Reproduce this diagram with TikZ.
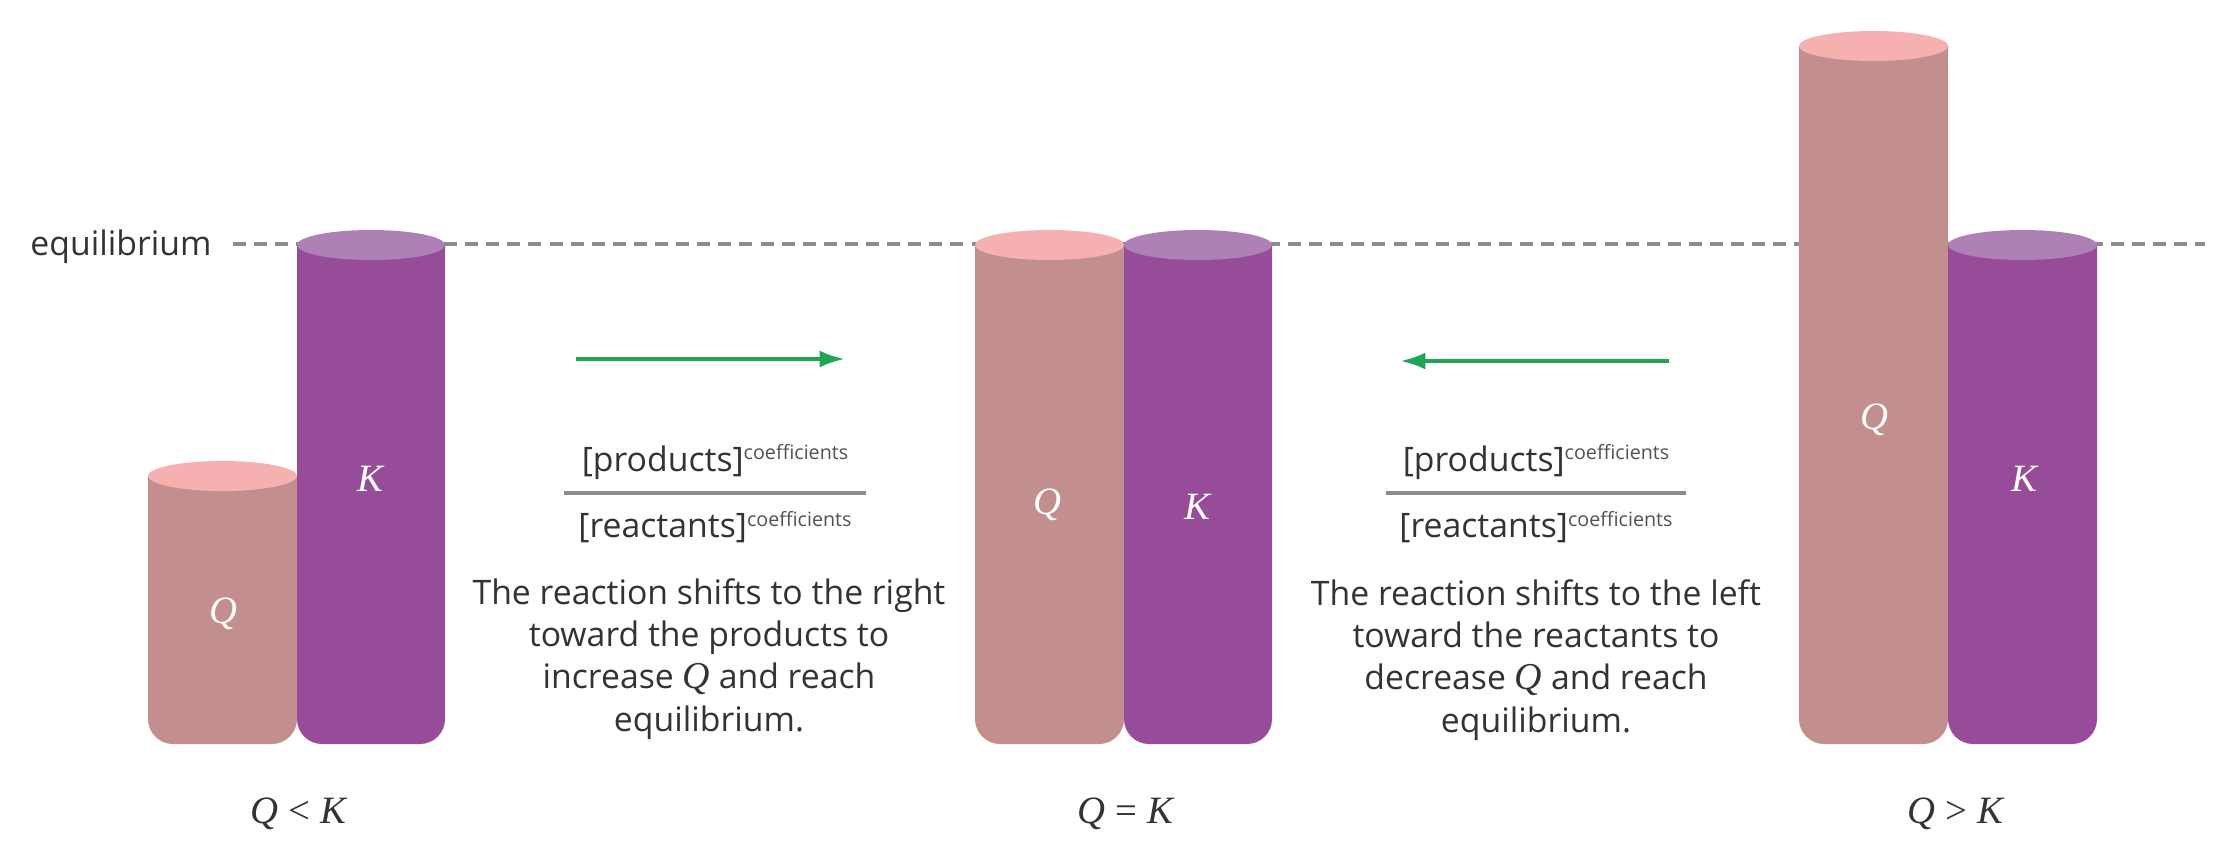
\documentclass[tikz,border=0pt]{standalone}
\usepackage{fontspec}
\setmainfont{Open Sans}
\newfontfamily\varfont{Liberation Serif}
\usetikzlibrary{arrows.meta, positioning}
\definecolor{rtqbody}{HTML}{C28E8E}
\definecolor{rtqcap}{HTML}{F7B0B0}
\definecolor{rtkbody}{HTML}{974C9A}
\definecolor{rtkcap}{HTML}{AE80B5}
\definecolor{rtgreen}{HTML}{22A455}
\definecolor{rttext}{HTML}{333333}
\definecolor{rtline}{HTML}{8C8C8C}
\newcommand{\rtvar}[1]{{\varfont\itshape #1}}
\newcommand{\rtnotevar}[1]{{\fontsize{10.8}{12}\selectfont\rtvar{#1}}}
\newcommand{\rtcoef}{\raisebox{3.2pt}{\fontsize{5.6}{6}\selectfont\color{rttext!85}coefficients}}
\tikzset{
  rtarrow/.style={-{Latex[length=7.2pt, width=4.8pt]}, rtgreen, line width=1.1pt},
  rtlevel/.style={draw=rtline, line width=1pt, dash pattern=on 3.7pt off 2.3pt},
  rtbar/.style={draw=rtline, line width=1pt},
  rttxt/.style={text=rttext, inner sep=0pt, font=\fontsize{9.6}{12}\selectfont},
  rtnote/.style={rttxt, align=center},
  rtfrac/.style={rttxt},
  rtvalue/.style={text=white, inner sep=0pt, font=\fontsize{11}{13}\selectfont},
  rtcase/.style={text=rttext, inner sep=0pt, font=\fontsize{11}{13}\selectfont},
  rtcorner/.style={rounded corners=0.25cm},
}
\begin{document}
\begin{tikzpicture}[x=0.01cm, y=-0.01cm]
  \useasboundingbox (0,0) rectangle (2216,848);

  % Equilibrium level, behind the cylinders.
  \node[rttxt] (eq) at (121,247) {equilibrium};
  \coordinate (level_l) at (233,244);
  \coordinate (level_r) at (2205,244);
  \draw[rtlevel] (level_l) -- (level_r);

  % Q < K.
  \fill[rtqbody] (148,476) [rtcorner] -- (148,744) -- (297,744) [sharp corners] -- (297,476) -- cycle;
  \fill[rtqcap] (222.5,476) ellipse [x radius=74.5, y radius=15];
  \fill[rtkbody] (297,245) [rtcorner] -- (297,744) -- (445,744) [sharp corners] -- (445,245) -- cycle;
  \fill[rtkcap] (371,245) ellipse [x radius=74, y radius=15];
  \node[rtvalue] (q_low) at (223,614) {\rtvar{Q}};
  \node[rtvalue] (k_low) at (370,479) {\rtvar{K}};
  \node[rtcase] (case_low) at (298,814) {\rtvar{Q} {\varfont<} \rtvar{K}};

  % Q = K.
  \fill[rtqbody] (975,245) [rtcorner] -- (975,744) -- (1124,744) [sharp corners] -- (1124,245) -- cycle;
  \fill[rtqcap] (1049.5,245) ellipse [x radius=74.5, y radius=15];
  \fill[rtkbody] (1124,245) [rtcorner] -- (1124,744) -- (1272,744) [sharp corners] -- (1272,245) -- cycle;
  \fill[rtkcap] (1198,245) ellipse [x radius=74, y radius=15];
  \node[rtvalue] (q_mid) at (1047,505) {\rtvar{Q}};
  \node[rtvalue] (k_mid) at (1197,507) {\rtvar{K}};
  \node[rtcase] (case_mid) at (1125,814) {\rtvar{Q} {\varfont=} \rtvar{K}};

  % Q > K.
  \fill[rtqbody] (1799,46) [rtcorner] -- (1799,744) -- (1948,744) [sharp corners] -- (1948,46) -- cycle;
  \fill[rtqcap] (1873.5,46) ellipse [x radius=74.5, y radius=15];
  \fill[rtkbody] (1948,245) [rtcorner] -- (1948,744) -- (2097,744) [sharp corners] -- (2097,245) -- cycle;
  \fill[rtkcap] (2022.5,245) ellipse [x radius=74.5, y radius=15];
  \node[rtvalue] (q_high) at (1874,420) {\rtvar{Q}};
  \node[rtvalue] (k_high) at (2024,479) {\rtvar{K}};
  \node[rtcase] (case_high) at (1955,814) {\rtvar{Q} {\varfont>} \rtvar{K}};

  % Shift to the right.
  \coordinate (right_s) at (576,359);
  \coordinate (right_e) at (845,359);
  \draw[rtarrow] (right_s) -- (right_e);
  \coordinate (bar1_l) at (564,493);
  \coordinate (bar1_r) at (866,493);
  \draw[rtbar] (bar1_l) -- (bar1_r);
  \node[rtfrac] (prod1) at (715,462) {[products]\rtcoef};
  \node[rtfrac] (reac1) at (715,527) {[reactants]\rtcoef};
  \node[rtnote] (note1) at (709,659) {The reaction shifts to the right\\toward the products to\\increase \rtnotevar{Q} and reach\\equilibrium.};

  % Shift to the left.
  \coordinate (left_s) at (1669,361);
  \coordinate (left_e) at (1400,361);
  \draw[rtarrow] (left_s) -- (left_e);
  \coordinate (bar2_l) at (1386,493);
  \coordinate (bar2_r) at (1686,493);
  \draw[rtbar] (bar2_l) -- (bar2_r);
  \node[rtfrac] (prod2) at (1536,462) {[products]\rtcoef};
  \node[rtfrac] (reac2) at (1536,527) {[reactants]\rtcoef};
  \node[rtnote] (note2) at (1536,660) {The reaction shifts to the left\\toward the reactants to\\decrease \rtnotevar{Q} and reach\\equilibrium.};
\end{tikzpicture}
\end{document}
